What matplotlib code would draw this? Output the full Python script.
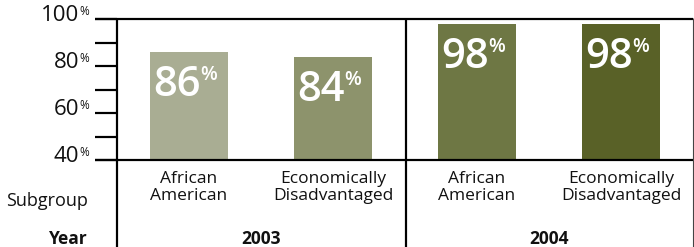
import matplotlib
matplotlib.use("Agg")
import matplotlib.pyplot as plt
from matplotlib.transforms import blended_transform_factory, offset_copy
from matplotlib.lines import Line2D

# ---- data ----
years = ["2003", "2004"]
subgroups = ["African\nAmerican", "Economically\nDisadvantaged",
             "African\nAmerican", "Economically\nDisadvantaged"]
values = [86, 84, 98, 98]
bar_colors = ["#a9ad93", "#8d936c", "#6e7744", "#596127"]
y_major = [40, 60, 80, 100]
y_minor = [50, 70, 90]

FONT = "Open Sans"
plt.rcParams["font.family"] = [FONT, "DejaVu Sans"]

W, H, DPI = 694, 247, 100
fig = plt.figure(figsize=(W / DPI, H / DPI), dpi=DPI)

def fx(px):
    return px / W

def fy(py_from_top):
    return (H - py_from_top) / H

PT = 72 / DPI
ax_left, ax_right, ax_top, ax_bottom = 117, 693, 19.5, 160
ax = fig.add_axes([fx(ax_left), fy(ax_bottom), fx(ax_right - ax_left),
                   (ax_bottom - ax_top) / H])
ax.set_xlim(0, 4)
ax.set_ylim(40, 100)
for s in ax.spines.values():
    s.set_visible(False)

xs = [i + 0.5 for i in range(len(values))]
bw = 78 / 144
ax.bar(xs, [v - 40 for v in values], bottom=40, width=bw, color=bar_colors,
       zorder=2)

# y ticks
tick_len = 22 * PT
lw = 2.2 * PT
ax.set_yticks(y_major)
ax.set_yticks(y_minor, minor=True)
ax.tick_params(axis="y", which="both", direction="out", length=tick_len,
               width=lw, color="black", labelleft=False)

# y labels with superscript %
tr = offset_copy(blended_transform_factory(fig.transFigure, ax.transData),
                 fig=fig, x=0, y=3.5 * PT, units="points")
for v in y_major:
    t = ax.text(fx(79), v, str(v), transform=tr, ha="right", va="center",
                fontsize=16, color="#111111")
    ax.annotate("%", xy=(1, 1), xycoords=t, xytext=(0, 0),
                textcoords="offset points", ha="left", va="top",
                fontsize=8.5, color="#111111")

# x tick labels (subgroups)
ax.set_xticks(xs)
ax.set_xticklabels(subgroups, fontsize=12.5, linespacing=1.1,
                   color="#111111")
ax.tick_params(axis="x", length=0, pad=8)

# bar value labels
for x, v in zip(xs, values):
    base = offset_copy(ax.transData, fig=fig, x=3 * PT, y=-12 * PT,
                       units="points")
    t = ax.text(x - bw / 2, v, str(v), transform=base, ha="left", va="top",
                fontsize=30, fontweight="semibold", color="white", zorder=3)
    ax.annotate("%", xy=(1, 1), xycoords=t, xytext=(0, -0.5),
                textcoords="offset points", ha="left", va="top",
                fontsize=14, fontweight="semibold", color="white", zorder=3)

# frame lines
def hline(y, x0, x1, **kw):
    fig.add_artist(Line2D([fx(x0), fx(x1)], [fy(y), fy(y)], color="black",
                          lw=lw, solid_capstyle="butt", **kw))

def vline(x, y0, y1, color="black", width=lw):
    fig.add_artist(Line2D([fx(x), fx(x)], [fy(y0), fy(y1)], color=color,
                          lw=width, solid_capstyle="butt"))

hline(ax_top, 95, 693)
hline(ax_bottom, 95, 693)
vline(ax_left, ax_top - 1, H)
vline(ax_left + (ax_right - ax_left) / 2 + 1, ax_top - 1, H)
vline(692.5, ax_top - 1, H, color="#444444", width=0.8)

# row headers
fig.text(fx(88), fy(206), "Subgroup", ha="right", va="baseline",
         fontsize=13, color="#111111")
fig.text(fx(88), fy(244), "Year", ha="right", va="baseline",
         fontsize=12.5, fontweight="bold", color="#111111")
for i, yr in enumerate(years):
    fig.text(fx(ax_left + 144 + 288 * i), fy(244), yr, ha="center",
             va="baseline", fontsize=12.5, fontweight="bold", color="#111111")

fig.savefig("out.png", dpi=DPI)
